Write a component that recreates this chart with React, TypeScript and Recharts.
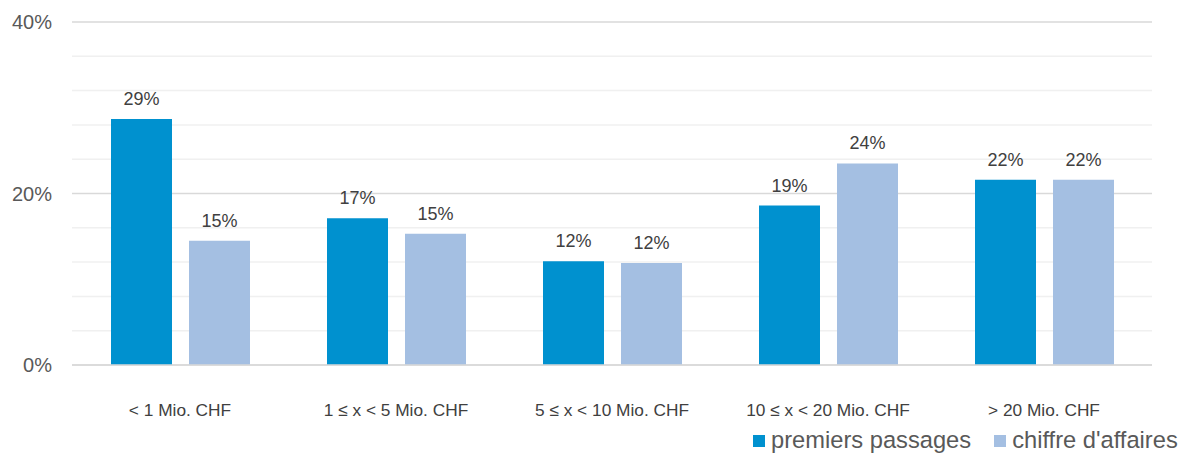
import { BarChart, Bar, XAxis, YAxis, CartesianGrid, LabelList, Legend } from 'recharts';

const categories = ['< 1 Mio. CHF', '1 ≤ x < 5 Mio. CHF', '5 ≤ x < 10 Mio. CHF', '10 ≤ x < 20 Mio. CHF', '> 20 Mio. CHF'];
const premiersPassages = [28.7, 17.1, 12.1, 18.6, 21.6];
const chiffreAffaires = [14.5, 15.3, 11.9, 23.5, 21.6];
const yTicks = [0, 20, 40];
const minorLines = [4, 8, 12, 16, 24, 28, 32, 36];

const series = [
  { key: 'premiers', name: 'premiers passages', color: '#0091cf' },
  { key: 'chiffre', name: "chiffre d'affaires", color: '#a4bfe2' },
];

const data = categories.map((name, i) => ({
  name,
  premiers: premiersPassages[i],
  chiffre: chiffreAffaires[i],
}));

const font = 'Arial, "Liberation Sans", sans-serif';
const pct = (v: number) => `${Math.round(v)}%`;

function LegendBox() {
  return (
    <div style={{ display: 'flex', alignItems: 'center', fontFamily: font, fontSize: 23.7, color: '#595959', whiteSpace: 'nowrap' }}>
      {series.map((s, i) => (
        <div key={s.key} style={{ display: 'flex', alignItems: 'center', marginLeft: i ? 23 : 0 }}>
          <span style={{ width: 12, height: 12, background: s.color, marginRight: 6, display: 'inline-block' }} />
          <span>{s.name}</span>
        </div>
      ))}
    </div>
  );
}

export default function App() {
  return (
    <div style={{ position: 'absolute', left: 0, top: 0, background: '#fff' }}>
      <BarChart
        width={1184}
        height={453}
        data={data}
        margin={{ top: 22, right: 32, bottom: 58, left: 0 }}
        barSize={61}
        barGap={17}
      >
        <CartesianGrid vertical={false} horizontalValues={minorLines} stroke="#f0f0f0" strokeWidth={1.5} />
        <CartesianGrid vertical={false} stroke="#d9d9d9" strokeWidth={1.5} />
        <XAxis
          dataKey="name"
          height={30}
          axisLine={{ stroke: '#d9d9d9', strokeWidth: 1.5 }}
          tickLine={false}
          tickMargin={33}
          interval={0}
          tick={{ fill: '#404040', fontSize: 17.3, fontFamily: font }}
        />
        <YAxis
          width={72}
          domain={[0, 40]}
          ticks={yTicks}
          tickFormatter={(v: number) => `${v}%`}
          axisLine={false}
          tickLine={false}
          tickMargin={14}
          tick={{ fill: '#595959', fontSize: 20, fontFamily: font }}
        />
        <Legend
          layout="horizontal"
          verticalAlign="middle"
          align="center"
          wrapperStyle={{ left: 753, top: 427, width: 431, height: 30 }}
          content={() => <LegendBox />}
        />
        {series.map((s) => (
          <Bar key={s.key} dataKey={s.key} name={s.name} fill={s.color} isAnimationActive={false}>
            <LabelList
              dataKey={s.key}
              position="top"
              offset={14}
              formatter={(v: number) => pct(v)}
              style={{ fill: '#404040', fontSize: 18, fontFamily: font }}
            />
          </Bar>
        ))}
      </BarChart>
    </div>
  );
}
